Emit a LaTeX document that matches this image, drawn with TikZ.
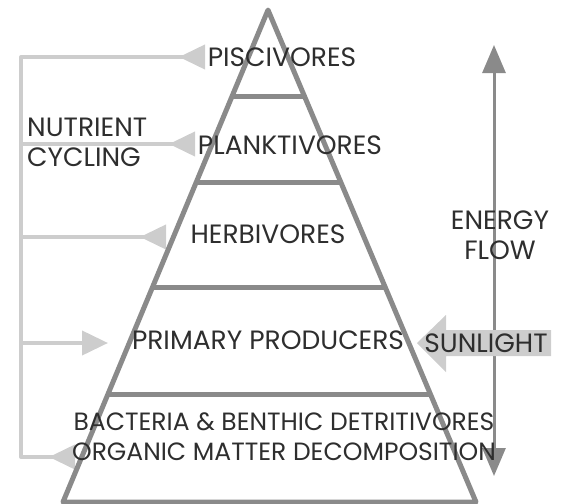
\documentclass[tikz,border=0pt]{standalone}
\usepackage{fontspec}
\setmainfont{Poppins}
\usetikzlibrary{arrows.meta,calc}
\definecolor{pyrgray}{HTML}{8A8A8A}
\definecolor{cycgray}{HTML}{CDCDCD}
\definecolor{txtgray}{HTML}{2E2E2E}

\begin{document}
\begin{tikzpicture}[x=1pt,y=-1pt,line join=round,
  pyr/.style={draw=pyrgray,line width=5pt},
  cyc/.style={draw=cycgray,line width=4pt},
  lbl/.style={text=txtgray,inner sep=0pt,font=\fontsize{26.5}{30}\selectfont,align=center}]
\useasboundingbox (0,0) rectangle (563,504);
% nutrient cycling
\coordinate (c1) at (21,57);
\coordinate (c5) at (21,457);
\coordinate (h1) at (205,57);
\coordinate (h2) at (195,144);
\coordinate (h3) at (166,237);
\coordinate (h4) at (108,343);
\coordinate (h5) at (75,457);
\draw[cyc,{Triangle[reversed,length=26pt,width=24pt]}-{Triangle[reversed,length=26pt,width=24pt]}] (h1) -- (c1) -- (c5) -- (h5);
\foreach \n in {2,3}
  \draw[cyc,-{Triangle[reversed,length=26pt,width=24pt]}] (h\n -| c1) -- (h\n);
\draw[cyc,-{Triangle[length=26pt,width=24pt]}] (h4 -| c1) -- (h4);
% energy flow
\coordinate (etop) at (494,45);
\coordinate (ebot) at (494,476);
\draw[draw=pyrgray,line width=3pt,{Triangle[length=28pt,width=23pt]}-{Triangle[length=28pt,width=23pt]}] (etop) -- (ebot);
% sunlight
\fill[cycgray] (417,343) -- (446,315) -- (446,330) -- (551,330) -- (551,356) -- (446,356) -- (446,372) -- cycle;
% pyramid
\coordinate (apex) at (268,10);
\coordinate (bl) at (63,502);
\coordinate (br) at (476,502);
\draw[pyr] (bl) -- (apex) -- (br) -- cycle;
\foreach \t/\n in {0.1768/1,0.3516/2,0.565/3,0.7825/4}{
  \coordinate (l\n) at ($(apex)!\t!(bl)$);
  \coordinate (r\n) at ($(apex)!\t!(br)$);
  \draw[pyr] (l\n) -- (r\n);
}
% labels
\node[lbl] (pisc) at (282,57) {PISCIVORES};
\node[lbl] (plank) at (290,145) {PLANKTIVORES};
\node[lbl] (herb) at (268,234) {HERBIVORES};
\node[lbl] (prim) at (268,340) {PRIMARY PRODUCERS};
\node[lbl,font=\fontsize{25}{30}\selectfont] (bact) at (284,437) {BACTERIA \& BENTHIC DETRITIVORES\\ORGANIC MATTER DECOMPOSITION};
\node[lbl,anchor=west,align=left] (nutr) at (27,142) {NUTRIENT\\CYCLING};
\node[lbl] (energy) at (500,235) {ENERGY\\FLOW};
\node[lbl] (sun) at (486,343) {SUNLIGHT};
\end{tikzpicture}
\end{document}
